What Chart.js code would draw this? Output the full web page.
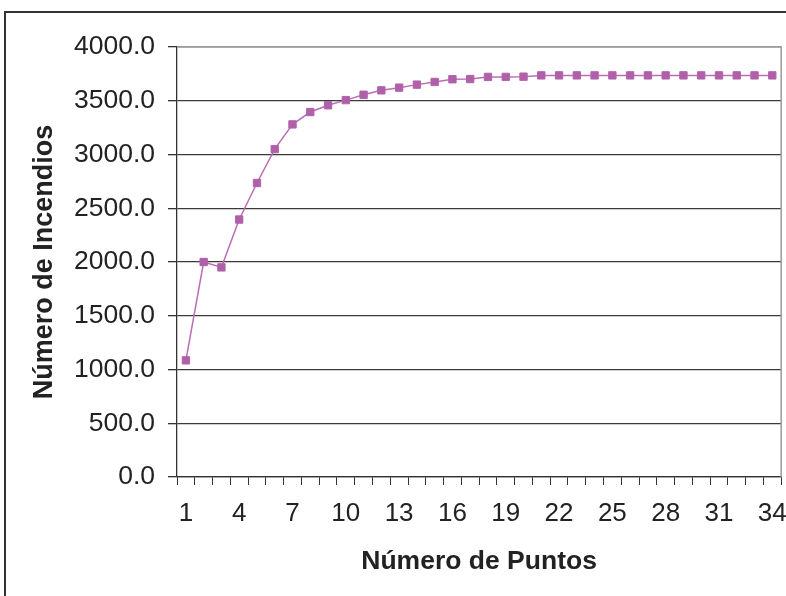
<!DOCTYPE html>
<html>
<head>
<meta charset="utf-8">
<script src="https://cdn.jsdelivr.net/npm/chart.js@4"></script>
<style>
  html, body { margin: 0; padding: 0; background: #fff; overflow: hidden; }
  #wrap { position: relative; width: 786px; height: 596px; overflow: hidden; }
  #frame { position: absolute; left: 4px; top: 11px; width: 800px; height: 600px;
           border-left: 2px solid #333; border-top: 2px solid #333; }
  canvas { position: absolute; left: 0; top: 0; }
</style>
</head>
<body>
<div id="wrap">
  <div id="frame"></div>
  <canvas id="chart" width="800" height="596"></canvas>
</div>
<script>
// values
const puntos = ['1','2','3','4','5','6','7','8','9','10','11','12','13','14','15','16','17',
  '18','19','20','21','22','23','24','25','26','27','28','29','30','31','32','33','34'];
const incendios = [1085, 2000, 1950, 2395, 2735, 3050, 3280, 3395, 3458, 3506, 3556, 3597,
  3622, 3650, 3675, 3700, 3702, 3722, 3722, 3724, 3736, 3736, 3736, 3736, 3736, 3736,
  3736, 3736, 3736, 3736, 3736, 3736, 3736, 3736];
const yTicks = [0, 500, 1000, 1500, 2000, 2500, 3000, 3500, 4000];

const FONT = "'Liberation Sans', Arial, sans-serif";

// gray plot border on top and right, like the spreadsheet plot area
const plotBorder = {
  id: 'plotBorder',
  afterDraw(chart) {
    const { ctx, chartArea: a } = chart;
    ctx.save();
    ctx.strokeStyle = '#9a9a9a';
    ctx.lineWidth = 1.5;
    ctx.beginPath();
    ctx.moveTo(a.left, a.top);
    ctx.lineTo(a.right, a.top);
    ctx.lineTo(a.right, a.bottom);
    ctx.stroke();
    ctx.restore();
  }
};

new Chart(document.getElementById('chart'), {
  type: 'line',
  data: {
    labels: puntos,
    datasets: [{
      data: incendios,
      borderColor: '#bb6db3',
      borderWidth: 1.5,
      backgroundColor: '#b060a8',
      pointStyle: 'rect',
      pointRadius: 5.2,
      pointBorderWidth: 1,
      pointBorderColor: '#b263aa',
      pointBackgroundColor: '#b060a8',
      tension: 0
    }]
  },
  options: {
    responsive: false,
    animation: false,
    layout: { padding: { top: 47, right: 17, bottom: 0, left: 0 } },
    plugins: { legend: { display: false }, tooltip: { enabled: false } },
    scales: {
      x: {
        offset: true,
        grid: { drawOnChartArea: false, offset: true, tickLength: 8, color: '#333', lineWidth: 1 },
        border: { color: '#333', width: 1.3 },
        ticks: {
          autoSkip: false, maxRotation: 0, padding: 13, color: '#222',
          font: { family: FONT, size: 26 },
          callback: (v, i) => (i % 3 === 0 ? puntos[i] : '')
        },
        title: {
          display: true, text: 'Número de Puntos', color: '#222',
          font: { family: FONT, size: 26.5, weight: 'bold' },
          padding: { top: 0, bottom: 18 }
        },
        afterFit(s) { s.height = 119; }
      },
      y: {
        min: 0, max: 4000,
        afterBuildTicks(s) { s.ticks = yTicks.map(v => ({ value: v })); },
        grid: {
          tickLength: 9, lineWidth: 1.3,
          color: c => (c.tick && c.tick.value === 4000 ? '#9a9a9a' : '#3a3a3a'),
          tickColor: '#333'
        },
        border: { color: '#333', width: 1.3 },
        ticks: {
          padding: 13, color: '#222',
          font: { family: FONT, size: 26.5 },
          callback: v => Number(v).toFixed(1)
        },
        title: {
          display: true, text: 'Número de Incendios', color: '#222',
          font: { family: FONT, size: 27, weight: 'bold' },
          padding: { top: 28, bottom: 0 }
        },
        afterFit(s) { s.width = 177; }
      }
    }
  },
  plugins: [plotBorder]
});
</script>
</body>
</html>
